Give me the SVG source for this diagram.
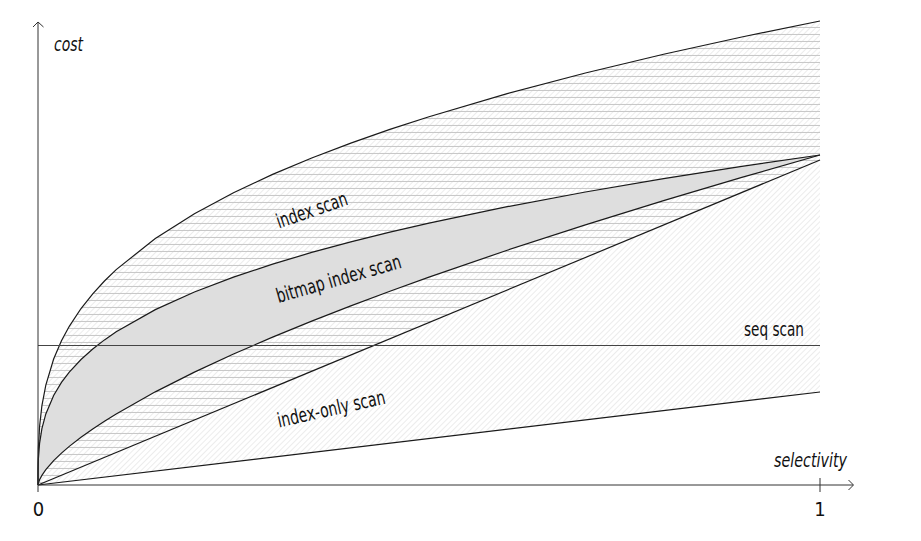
<svg xmlns="http://www.w3.org/2000/svg" width="921" height="541" viewBox="0 0 921 541">
<style>
.txt{font-family:"Liberation Sans Narrow","DejaVu Sans Condensed","Liberation Sans",sans-serif;font-size:20px;fill:#111}
.it{font-style:italic}
.curve{fill:none;stroke:#1a1a1a;stroke-width:1.2}
.axis{fill:none;stroke:#333;stroke-width:1}
</style>
<defs>
<pattern id="diag" width="4" height="4" patternUnits="userSpaceOnUse" patternTransform="rotate(45)">
<line x1="0" y1="-1" x2="0" y2="5" stroke="#d0d0d0" stroke-width="0.8"/>
</pattern>
<pattern id="horiz" width="10" height="7" patternUnits="userSpaceOnUse">
<line x1="-1" y1="6.5" x2="11" y2="6.5" stroke="#c8c8c8" stroke-width="1.1"/>
</pattern>
</defs>
<rect width="921" height="541" fill="#fff"/>
<g id="fills">
<path fill="url(#diag)" d="M38,485 L38.016,472.41 L38.078,463.46 L38.391,448.17 L39.564,426.54 L41.91,405.66 L45.82,385.04 L53.64,359.05 L61.46,340.83 L69.28,326.31 L81.01,308.54 L92.74,293.77 L104.47,281.0 L116.2,269.63 L155.3,238.46 L194.4,213.65 L233.5,192.7 L272.6,174.38 L311.7,158.02 L350.8,143.12 L389.9,129.43 L429,116.72 L507.2,93.65 L585.4,73.01 L663.6,54.26 L741.8,37.01 L820,21 L820,392 Z"/>
<path fill="url(#horiz)" d="M38,485 L38.016,472.41 L38.078,463.46 L38.391,448.17 L39.564,426.54 L41.91,405.66 L45.82,385.04 L53.64,359.05 L61.46,340.83 L69.28,326.31 L81.01,308.54 L92.74,293.77 L104.47,281.0 L116.2,269.63 L155.3,238.46 L194.4,213.65 L233.5,192.7 L272.6,174.38 L311.7,158.02 L350.8,143.12 L389.9,129.43 L429,116.72 L507.2,93.65 L585.4,73.01 L663.6,54.26 L741.8,37.01 L820,21 L820,160 Z"/>
<path id="bitmap-fill" fill="#dedede" d="M38,485 L38.016,476.04 L38.078,469.68 L38.391,458.81 L39.564,443.42 L41.91,428.57 L45.82,413.9 L53.64,395.42 L61.46,382.46 L69.28,372.14 L81.01,359.5 L92.74,349 L104.47,339.9 L116.2,331.83 L155.3,309.66 L194.4,292.02 L233.5,277.1 L272.6,264.09 L311.7,252.45 L350.8,241.85 L389.9,232.12 L429,223.08 L507.2,206.67 L585.4,191.99 L663.6,178.65 L741.8,166.39 L820,155 L741.8,177.38 L663.6,200.61 L585.4,224.84 L507.2,250.24 L429,277.11 L389.9,291.21 L350.8,305.85 L311.7,321.12 L272.6,337.11 L233.5,354.04 L194.4,372.14 L155.3,391.84 L116.2,413.9 L104.47,421.2 L92.74,428.95 L81.01,437.27 L69.28,446.4 L61.46,453.14 L53.64,460.69 L45.82,469.68 L41.91,475.35 L39.564,479.76 L38.391,482.92 Z"/>
</g>
<g id="curves">
<path id="index-scan-curve" class="curve" d="M38,485 L38.016,472.41 L38.078,463.46 L38.391,448.17 L39.564,426.54 L41.91,405.66 L45.82,385.04 L53.64,359.05 L61.46,340.83 L69.28,326.31 L81.01,308.54 L92.74,293.77 L104.47,281.0 L116.2,269.63 L155.3,238.46 L194.4,213.65 L233.5,192.7 L272.6,174.38 L311.7,158.02 L350.8,143.12 L389.9,129.43 L429,116.72 L507.2,93.65 L585.4,73.01 L663.6,54.26 L741.8,37.01 L820,21"/>
<path id="bitmap-upper" class="curve" d="M38,485 L38.016,476.04 L38.078,469.68 L38.391,458.81 L39.564,443.42 L41.91,428.57 L45.82,413.9 L53.64,395.42 L61.46,382.46 L69.28,372.14 L81.01,359.5 L92.74,349 L104.47,339.9 L116.2,331.83 L155.3,309.66 L194.4,292.02 L233.5,277.1 L272.6,264.09 L311.7,252.45 L350.8,241.85 L389.9,232.12 L429,223.08 L507.2,206.67 L585.4,191.99 L663.6,178.65 L741.8,166.39 L820,155"/>
<path id="bitmap-lower" class="curve" d="M38,485 L38.391,482.92 L39.564,479.76 L41.91,475.35 L45.82,469.68 L53.64,460.69 L61.46,453.14 L69.28,446.4 L81.01,437.27 L92.74,428.95 L104.47,421.2 L116.2,413.9 L155.3,391.84 L194.4,372.14 L233.5,354.04 L272.6,337.11 L311.7,321.12 L350.8,305.85 L389.9,291.21 L429,277.11 L507.2,250.24 L585.4,224.84 L663.6,200.61 L741.8,177.38 L820,155"/>
<line id="index-line" class="curve" x1="38" y1="485" x2="820" y2="160"/>
<line id="index-only-line" class="curve" x1="38" y1="485" x2="820" y2="392"/>
<line id="seq-scan-line" x1="38" y1="345.5" x2="820" y2="345.5" stroke="#444" stroke-width="1"/>
</g>
<g id="axes">
<line class="axis" x1="38" y1="492" x2="38" y2="22"/>
<polyline class="axis" points="33,27 38,22 43.5,27"/>
<line class="axis" x1="38" y1="485" x2="853" y2="485"/>
<polyline class="axis" points="848.5,480 853.5,485 848.5,490"/>
<line class="axis" x1="820" y1="478" x2="820" y2="492"/>
</g>
<g id="labels">
<text class="txt it" x="54" y="51" textLength="29" lengthAdjust="spacingAndGlyphs">cost</text>
<text class="txt it" x="774" y="467" textLength="73" lengthAdjust="spacingAndGlyphs">selectivity</text>
<text class="txt" x="744" y="336" textLength="60" lengthAdjust="spacingAndGlyphs">seq scan</text>
<text class="txt" x="38.5" y="516" text-anchor="middle">0</text>
<text class="txt" x="820" y="516" text-anchor="middle">1</text>
<text class="txt" x="279" y="228.5" transform="rotate(-19 279 228.5)" textLength="74" lengthAdjust="spacingAndGlyphs">index scan</text>
<text class="txt" x="278.5" y="303" transform="rotate(-16 278.5 303)" textLength="129" lengthAdjust="spacingAndGlyphs">bitmap index scan</text>
<text class="txt" x="279" y="427.5" transform="rotate(-12.6 279 427.5)" textLength="110" lengthAdjust="spacingAndGlyphs">index-only scan</text>
</g>
</svg>
